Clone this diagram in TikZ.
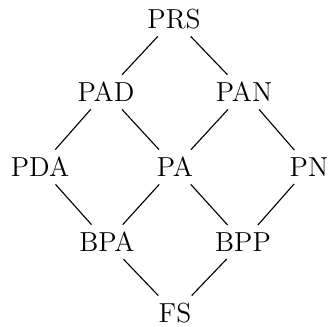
\documentclass[tikz,border=0pt]{standalone}
\begin{document}
\begin{tikzpicture}[x=0.4pt,y=-0.4pt,
  lat/.style={inner sep=2.8pt,font=\fontsize{11pt}{13pt}\selectfont},
  edge/.style={draw,line width=0.45pt}]
\useasboundingbox (0,0) rectangle (328,327);
\node[lat] (prs) at (174,19) {PRS};
\node[lat] (pad) at (106,92) {PAD};
\node[lat] (pan) at (244,92) {PAN};
\node[lat] (pda) at (40,167) {PDA};
\node[lat] (pa)  at (175,167) {PA};
\node[lat] (pn)  at (309,167) {PN};
\node[lat] (bpa) at (107,242) {BPA};
\node[lat] (bpp) at (243,242) {BPP};
\node[lat] (fs)  at (175,313) {FS};
\path[edge] (prs) -- (pad);
\path[edge] (prs) -- (pan);
\path[edge] (pad) -- (pda);
\path[edge] (pad) -- (pa);
\path[edge] (pan) -- (pa);
\path[edge] (pan) -- (pn);
\path[edge] (pda) -- (bpa);
\path[edge] (pa) -- (bpa);
\path[edge] (pa) -- (bpp);
\path[edge] (pn) -- (bpp);
\path[edge] (bpa) -- (fs);
\path[edge] (bpp) -- (fs);
\end{tikzpicture}
\end{document}
